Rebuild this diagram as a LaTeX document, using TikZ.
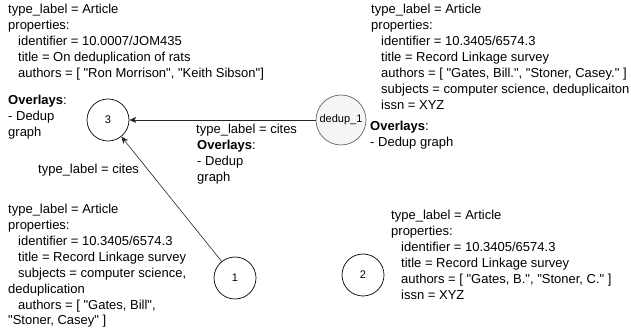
\documentclass[tikz,border=0pt]{standalone}
\usepackage{fontspec}
\setmainfont{Liberation Sans}[Ligatures=TeXOff]
\usetikzlibrary{arrows.meta}
\newcommand{\propgap}{\hspace*{10pt}}
\definecolor{dedupfill}{HTML}{F5F5F5}
\definecolor{dedupline}{HTML}{666666}
\tikzset{
  vertex/.style = {draw, circle, minimum size = 42pt, inner sep = 0pt, line width = 0.7pt,
                   font = \fontsize{11}{13}\selectfont},
  note/.style   = {anchor = north west, align = left, inner sep = 0pt,
                   font = \fontsize{13}{15.9}\selectfont},
  cites/.style  = {-{Stealth[length = 7pt, width = 6pt, inset = 2pt]}, line width = 0.6pt, black!85}
}
\begin{document}
\begin{tikzpicture}[x = 1pt, y = -1pt]
  \useasboundingbox (0,0) rectangle (631,328);
  % vertices
  \node [vertex] (n3) at (108,120) {3};
  \node [vertex, fill = dedupfill, draw = dedupline, minimum size = 50pt] (d1) at (341,120) {dedup\_1};
  \node [vertex] (n1) at (235,278) {1};
  \node [vertex] (n2) at (363,275) {2};
  % edges
  \draw [cites] (d1) -- (n3);
  \draw [cites] (n1) -- (n3);
  % properties of the vertices
  \node [note] (p3) at (8,4) {type\_label = Article\\properties:\\
    \propgap identifier = 10.0007/JOM435\\
    \propgap title = On deduplication of rats\\
    \propgap authors = [ "Ron Morrison", "Keith Sibson"]};
  \node [note] (o3) at (8,95) {\textbf{Overlays}:\\- Dedup\\graph};
  \node [note] (pd) at (371,4) {type\_label = Article\\properties:\\
    \propgap identifier = 10.3405/6574.3\\
    \propgap title = Record Linkage survey\\
    \propgap authors = [ "Gates, Bill.", "Stoner, Casey." ]\\
    \propgap subjects = computer science, deduplicaiton\\
    \propgap issn = XYZ};
  \node [note] (od) at (370,121) {\textbf{Overlays}:\\- Dedup graph};
  \node [note] (p1) at (8,204) {type\_label = Article\\properties:\\
    \propgap identifier = 10.3405/6574.3\\
    \propgap title = Record Linkage survey\\
    \propgap subjects = computer science,\\deduplication\\
    \propgap authors = [ "Gates, Bill",\\"Stoner, Casey" ]};
  \node [note] (p2) at (391,210) {type\_label = Article\\properties:\\
    \propgap identifier = 10.3405/6574.3\\
    \propgap title = Record Linkage survey\\
    \propgap authors = [ "Gates, B.", "Stoner, C." ]\\
    \propgap issn = XYZ};
  % edge labels
  \node [note] (e1) at (196,124) {type\_label = cites};
  \node [note] (oe1) at (197,140) {\textbf{Overlays}:\\- Dedup\\graph};
  \node [note] (e2) at (38,164) {type\_label = cites};
\end{tikzpicture}
\end{document}
